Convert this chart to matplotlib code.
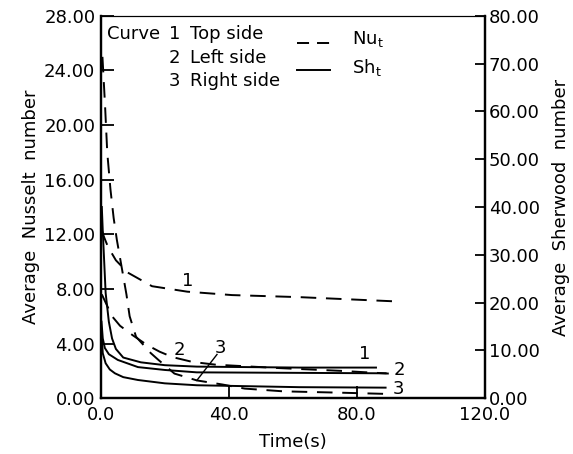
import matplotlib.pyplot as plt

# time axis (s) and average Nusselt numbers (left axis, dashed)
t_nu1 = [0.3, 1.0, 2.2, 4.7, 8.4, 16, 27, 41, 62, 91]
nu1 = [12.3, 11.8, 11.1, 10.1, 9.2, 8.2, 7.8, 7.55, 7.4, 7.1]
t_nu2 = [0.3, 1.5, 3.5, 6, 10, 14.4, 18.4, 22.5, 28.7, 36, 56, 75, 90]
nu2 = [7.6, 7.0, 6.0, 5.3, 4.6, 3.9, 3.4, 3.0, 2.65, 2.45, 2.2, 2.0, 1.8]
t_nu3 = [0.5, 1.3, 2.0, 3.0, 4.0, 5, 6.5, 8, 9, 11, 15.6, 18, 23, 30, 38, 45, 57, 75, 91]
nu3 = [25, 21.5, 18, 15.3, 13.2, 11.6, 9.6, 7.6, 6.0, 4.5, 3.3, 2.8, 1.8, 1.3, 1.0, 0.7, 0.5, 0.4, 0.3]

# average Sherwood numbers (right axis, solid)
t_sh1 = [0.3, 0.6, 1.5, 2.5, 3.5, 4.7, 7, 12.5, 20, 30, 62, 86]
sh1 = [40, 35, 22, 16, 12.5, 10.3, 8.5, 7.5, 6.9, 6.6, 6.4, 6.4]
t_sh2 = [0.2, 0.6, 1.25, 2.5, 5.3, 11.6, 20, 30, 60, 89]
sh2 = [16, 12.5, 10.5, 9.2, 8.0, 6.5, 5.9, 5.4, 5.3, 5.2]
t_sh3 = [0.2, 0.6, 1.5, 2.8, 4.4, 7, 11.6, 20, 30, 62, 89]
sh3 = [14, 9.4, 7.3, 6.0, 5.2, 4.4, 3.8, 3.1, 2.7, 2.3, 2.2]

left_ticks = [0, 4, 8, 12, 16, 20, 24, 28]
right_ticks = [0, 10, 20, 30, 40, 50, 60, 70, 80]
x_ticks = [0, 40, 80, 120]

plt.rcParams['font.family'] = 'DejaVu Sans'
plt.rcParams['mathtext.fontset'] = 'dejavusans'
fs = 13
dash = (0, (8, 5))
lw = 1.4

fig = plt.figure(figsize=(5.73, 4.54), dpi=100)
ax = fig.add_axes([0.176, 0.123, 0.670, 0.842])
ax2 = ax.twinx()

for t, v in [(t_nu1, nu1), (t_nu2, nu2), (t_nu3, nu3)]:
    ax.plot(t, v, color='black', lw=lw, linestyle=dash)
for t, v in [(t_sh1, sh1), (t_sh2, sh2), (t_sh3, sh3)]:
    ax2.plot(t, v, color='black', lw=lw)

ax.set_xlim(0, 120)
ax.set_ylim(0, 28)
ax2.set_ylim(0, 80)

ax.set_xticks(x_ticks)
ax.set_xticklabels(['%.1f' % v for v in x_ticks])
ax.set_yticks(left_ticks)
ax.set_yticklabels(['%.2f' % v for v in left_ticks])
ax2.set_yticks(right_ticks)
ax2.set_yticklabels(['%.2f' % v for v in right_ticks])

ax.tick_params(axis='both', direction='in', length=9, width=1.3,
               labelsize=fs, pad=4)
ax.tick_params(axis='x', pad=6)
ax2.tick_params(axis='y', direction='in', length=7, width=1.3,
                labelsize=fs, pad=3)

for a in (ax, ax2):
    for s in ('left', 'right', 'bottom'):
        a.spines[s].set_linewidth(1.6)
    a.spines['top'].set_linewidth(0.8)

ax.set_xlabel('Time(s)', fontsize=fs, labelpad=6)
ax.set_ylabel('Average  Nusselt  number', fontsize=fs, labelpad=3)
ax2.set_ylabel('Average  Sherwood  number', fontsize=fs, labelpad=9)

# key in the upper left corner
ax.text(1.9, 26.7, 'Curve', fontsize=fs, va='center')
for y, n, name in [(26.7, '1', 'Top side'), (24.9, '2', 'Left side'),
                   (23.2, '3', 'Right side')]:
    ax.text(21.3, y, n, fontsize=fs, va='center')
    ax.text(27.8, y, name, fontsize=fs, va='center')
ax.plot([61.3, 71.6], [26.0, 26.0], color='black', lw=lw, linestyle=(0, (6.2, 4.1)))
ax.plot([61.3, 71.6], [24.05, 24.05], color='black', lw=lw)
ax.text(78.4, 26.3, r'Nu$_\mathregular{t}$', fontsize=fs, va='center')
ax.text(78.4, 24.2, r'Sh$_\mathregular{t}$', fontsize=fs, va='center')

# curve numbers
ax.text(27, 8.6, '1', fontsize=fs, ha='center', va='center')
ax.text(24.7, 3.55, '2', fontsize=fs, ha='center', va='center')
ax.text(37.5, 3.65, '3', fontsize=fs, ha='center', va='center')
ax.plot([36.3, 30.0], [3.2, 1.3], color='black', lw=1.0)
ax.text(82.5, 3.2, '1', fontsize=fs, ha='center', va='center')
ax.text(93.2, 2.05, '2', fontsize=fs, ha='center', va='center')
ax.text(93.0, 0.65, '3', fontsize=fs, ha='center', va='center')

plt.savefig('out.png', dpi=100)
